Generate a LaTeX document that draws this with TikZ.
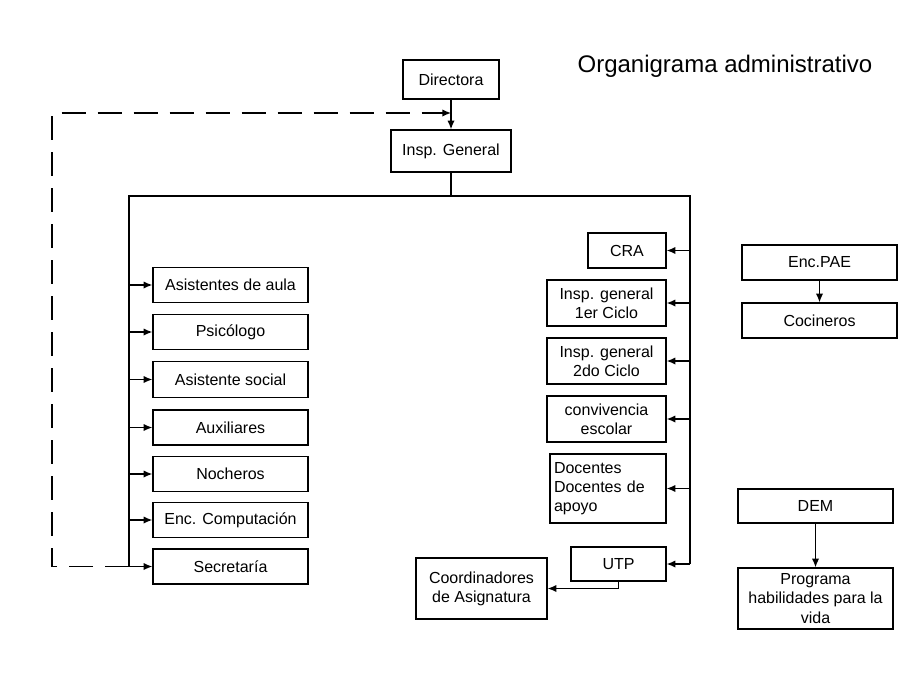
\documentclass[tikz,border=0pt]{standalone}
\usepackage{fontspec}
\setmainfont{Liberation Sans}
\usetikzlibrary{arrows.meta}
\begin{document}
\begin{tikzpicture}[x=0.75pt,y=-0.75pt,
	box/.style 2 args={draw,line width=1pt,minimum width=#1*0.75pt,minimum height=#2*0.75pt,inner sep=2pt,align=center,font=\fontsize{12}{14.4}\selectfont},
	arr/.style={line width=1pt,-{Latex[length=6.5pt,width=5.5pt]}},
	ln/.style={line width=1pt},
	dashline/.style={line width=1pt,dash pattern=on 18pt off 9pt}]
	\useasboundingbox (0,0) rectangle (919,674);
	\node at (725,66) (title) {\fontsize{18}{21}\selectfont Organigrama administrativo};
	
	\node at (451,79.5) [box={96}{39}] (dir) {Directora};
	\node at (451,151) [box={120}{42}] (insp) {Insp. General};
	
	% left branch
	\node at (230.5,285) [box={155}{35}] (asAula) {Asistentes de aula};
	\node at (230.5,332) [box={155}{35}] (psico) {Psicólogo};
	\node at (230.5,379.5) [box={155}{36}] (asSocial) {Asistente social};
	\node at (230.5,427.5) [box={155}{35}] (aux) {Auxiliares};
	\node at (230.5,474) [box={155}{35}] (noch) {Nocheros};
	\node at (230.5,520) [box={155}{35}] (encComp) {Enc. Computación};
	\node at (230.5,566.5) [box={155}{35}] (secr) {Secretaría};
	
	% right branch
	\node at (627,250.5) [box={78}{35}] (cra) {CRA};
	\node at (606.5,303) [box={119}{46}] (inspA) {Insp. general\\1er Ciclo};
	\node at (606.5,361) [box={119}{46}] (inspB) {Insp. general\\2do Ciclo};
	\node at (606.5,419) [box={119}{46}] (conv) {convivencia\\escolar};
	\node at (608,488.5) [box={116}{69},align=left,text width=108*0.75pt] (doc) {Docentes\\Docentes de\\apoyo};
	\node at (618.5,564) [box={95}{34}] (utp) {UTP};
	\node at (481.5,588.5) [box={131}{61}] (coord) {Coordinadores\\de Asignatura};
	
	% separate units
	\node at (819.5,262.5) [box={155}{35}] (pae) {Enc.PAE};
	\node at (819.5,320.5) [box={155}{35}] (coc) {Cocineros};
	\node at (815.5,506) [box={155}{34}] (dem) {DEM};
	\node at (815.5,598.5) [box={155}{61}] (prog) {Programa\\habilidades para la\\vida};
	
	\coordinate (top) at (451,196);
	\coordinate (lt) at (129,196);
	\coordinate (rt) at (690,196);
	\coordinate (lb) at (129,566.5);
	\coordinate (rb) at (690,564);
	\coordinate (dl) at (52,566.5);
	\coordinate (dj) at (451,113);
	
	\draw [arr] (dir) -- (insp);
	\draw [ln] (insp) -- (top);
	\draw [ln] (lb) -- (lt) -- (rt) -- (rb);
	
	\foreach \n in {asAula,psico,asSocial,aux,noch,encComp,secr}
		\draw [arr] (\n.west -| lb) -- (\n.west);
	\foreach \n in {cra,inspA,inspB,conv,doc,utp}
		\draw [arr] (\n.east -| rb) -- (\n.east);
	
	\draw [arr] (utp.south) |- (coord.east);
	\draw [dashline,-{Latex[length=6.5pt,width=5.5pt]}] (lb) -- (dl) |- (dj);
	
	\draw [arr] (pae) -- (coc);
	\draw [arr] (dem) -- (prog);
\end{tikzpicture}
\end{document}
